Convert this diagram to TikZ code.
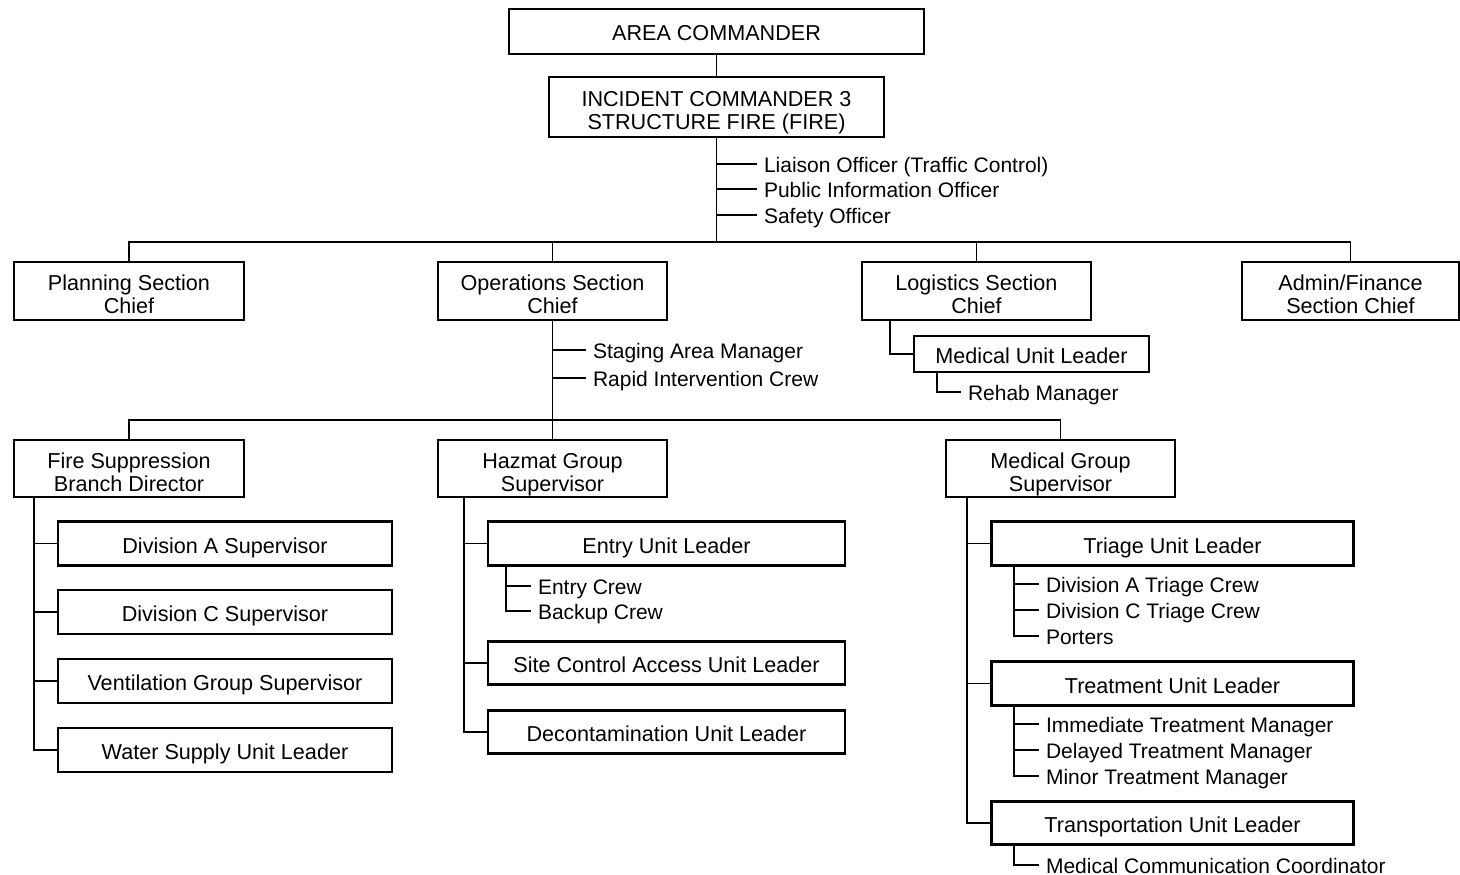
\documentclass[tikz,border=0pt]{standalone}
\usepackage{fontspec}
\setmainfont{Liberation Sans}
\newcommand{\chartfont}{\fontsize{21.6}{23}\selectfont}
\newcommand{\stafffont}{\fontsize{21}{23}\selectfont}

\begin{document}
\begin{tikzpicture}[x=1pt,y=-1pt,font=\chartfont,
  box/.style={draw,line width=2.3pt,align=center,inner sep=0pt,text height=45pt,text depth=0pt},
  onebox/.style={box,text height=19pt},
  link/.style={line width=1.3pt},
  staff/.style={anchor=west,inner sep=0pt,outer xsep=7pt,font=\stafffont,
    text height=16pt,text depth=0pt}]
\useasboundingbox (0,0) rectangle (1460,875);

% command
\node[onebox,minimum width=415pt,minimum height=45pt] (area) at (716.5,31.5) {AREA COMMANDER};
\node[box,minimum width=335pt,minimum height=60pt] (ic) at (716.5,107) {INCIDENT COMMANDER 3\\STRUCTURE FIRE (FIRE)};
\node[staff] (liaison) at (757,164) {Liaison Officer (Traffic Control)};
\node[staff] (pio) at (757,189) {Public Information Officer};
\node[staff] (safety) at (757,215) {Safety Officer};

% sections
\node[box,minimum width=230pt,minimum height=58pt] (planning) at (129,291) {Planning Section\\Chief};
\node[box,minimum width=229pt,minimum height=58pt] (ops) at (552.5,291) {Operations Section\\Chief};
\node[box,minimum width=229pt,minimum height=58pt] (logistics) at (976.5,291) {Logistics Section\\Chief};
\node[box,minimum width=217pt,minimum height=58pt] (admin) at (1350.5,291) {Admin/Finance\\Section Chief};
\node[onebox,minimum width=235pt,minimum height=36pt] (medunit) at (1031.5,354) {Medical Unit Leader};
\node[staff] (rehab) at (961,392) {Rehab Manager};
\node[staff] (staging) at (586,350) {Staging Area Manager};
\node[staff] (rapid) at (586,378) {Rapid Intervention Crew};

% branches and groups
\node[box,minimum width=230pt,minimum height=57pt] (fsb) at (129,468.5) {Fire Suppression\\Branch Director};
\node[box,minimum width=229pt,minimum height=57pt] (hazmat) at (552.5,468.5) {Hazmat Group\\Supervisor};
\node[box,minimum width=229pt,minimum height=57pt] (medgrp) at (1060.5,468.5) {Medical Group\\Supervisor};

% fire suppression
\node[onebox,minimum width=334pt,minimum height=44pt] (divA) at (225,543.5) {Division A Supervisor};
\node[onebox,minimum width=334pt,minimum height=44pt] (divC) at (225,612) {Division C Supervisor};
\node[onebox,minimum width=334pt,minimum height=44pt] (vent) at (225,681) {Ventilation Group Supervisor};
\node[onebox,minimum width=334pt,minimum height=44pt] (water) at (225,750) {Water Supply Unit Leader};

% hazmat
\node[onebox,minimum width=357pt,minimum height=44pt] (entry) at (666.5,543.5) {Entry Unit Leader};
\node[staff] (entrycrew) at (531,586) {Entry Crew};
\node[staff] (backup) at (531,611) {Backup Crew};
\node[onebox,minimum width=357pt,minimum height=43pt] (site) at (666.5,663) {Site Control Access Unit Leader};
\node[onebox,minimum width=357pt,minimum height=43pt] (decon) at (666.5,732) {Decontamination Unit Leader};

% medical group
\node[onebox,minimum width=362pt,minimum height=44pt] (triage) at (1172.5,543.5) {Triage Unit Leader};
\node[staff] (triageA) at (1039,584) {Division A Triage Crew};
\node[staff] (triageC) at (1039,610) {Division C Triage Crew};
\node[staff] (porters) at (1039,636) {Porters};
\node[onebox,minimum width=362pt,minimum height=44pt] (treat) at (1172.5,683.5) {Treatment Unit Leader};
\node[staff] (immed) at (1039,724) {Immediate Treatment Manager};
\node[staff] (delay) at (1039,750) {Delayed Treatment Manager};
\node[staff] (minor) at (1039,776) {Minor Treatment Manager};
\node[onebox,minimum width=362pt,minimum height=43pt] (transport) at (1172.5,823) {Transportation Unit Leader};
\node[staff] (medcomm) at (1039,865) {Medical Communication Coordinator};

% rails
\coordinate (bus) at (716.5,242);
\coordinate (opsbus) at (552.5,420);
\coordinate (log-rail) at (890,320);
\coordinate (mu-rail) at (937,372);
\coordinate (fsb-rail) at (34,497);
\coordinate (hz-rail) at (464,497);
\coordinate (entry-rail) at (506,565);
\coordinate (mg-rail) at (967,497);
\coordinate (tri-rail) at (1014,565);
\coordinate (tre-rail) at (1014,705);
\coordinate (tra-rail) at (1014,844);

\draw[link] (area) -- (ic);
\draw[link] (ic) -- (bus);
\foreach \s in {liaison,pio,safety}
  \draw[link] (ic.south |- \s) -- (\s.west);
\draw[link] (planning.north) |- (bus) -| (admin.north);
\foreach \s in {ops,logistics}
  \draw[link] (\s.north) -- (\s.north |- bus);

\draw[link] (ops) -- (hazmat);
\foreach \s in {staging,rapid}
  \draw[link] (ops.south |- \s) -- (\s.west);
\draw[link] (fsb.north) |- (opsbus) -| (medgrp.north);

\draw[link] (log-rail) |- (medunit.west);
\draw[link] (mu-rail) |- (rehab.west);

\foreach \s in {divA,divC,vent,water}
  \draw[link] (fsb-rail) |- (\s.west);
\foreach \s in {entry,site,decon}
  \draw[link] (hz-rail) |- (\s.west);
\foreach \s in {entrycrew,backup}
  \draw[link] (entry-rail) |- (\s.west);
\foreach \s in {triage,treat,transport}
  \draw[link] (mg-rail) |- (\s.west);
\foreach \s in {triageA,triageC,porters}
  \draw[link] (tri-rail) |- (\s.west);
\foreach \s in {immed,delay,minor}
  \draw[link] (tre-rail) |- (\s.west);
\draw[link] (tra-rail) |- (medcomm.west);
\end{tikzpicture}
\end{document}
